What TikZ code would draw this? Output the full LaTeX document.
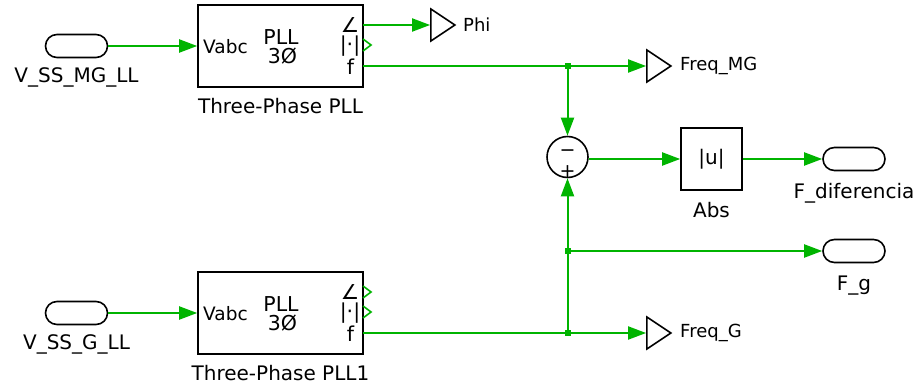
\documentclass[tikz,border=0pt]{standalone}
\usepackage{fontspec}
\setmainfont{DejaVu Sans}
\usepackage{xcolor}
\definecolor{sigreen}{HTML}{00B400}
\usetikzlibrary{positioning,arrows.meta,shapes.geometric}
\tikzset{
  blk/.style    ={rectangle, draw=black, line width=1.6pt, fill=white, inner sep=0pt},
  pllbox/.style ={blk, minimum width=165pt, minimum height=82pt},
  absbox/.style ={blk, minimum width=61pt, minimum height=62pt, font=\fontsize{20}{20}\selectfont},
  fromtag/.style={rectangle, rounded corners=11.5pt, draw=black, line width=1.6pt,
                  minimum width=62pt, minimum height=23pt, inner sep=0pt},
  gototag/.style={isosceles triangle, isosceles triangle stretches, draw=black, line width=1.6pt,
                  minimum width=32pt, minimum height=24pt, inner sep=0pt, anchor=apex},
  sumblk/.style ={circle, draw=black, line width=1.6pt, minimum size=41pt, inner sep=0pt},
  jdot/.style   ={rectangle, fill=sigreen, minimum size=6pt, inner sep=0pt},
  lbl/.style    ={font=\fontsize{20}{20}\selectfont, inner sep=0pt},
  glbl/.style   ={font=\fontsize{18}{18}\selectfont, inner sep=0pt, anchor=west},
  intxt/.style  ={font=\fontsize{20.5}{21}\selectfont, inner sep=0pt},
  intxts/.style ={font=\fontsize{18.5}{19}\selectfont, inner sep=0pt},
  sgn/.style    ={font=\fontsize{19}{19}\selectfont, inner sep=0pt},
  arr/.style    ={-{Triangle[length=18pt,width=13pt]}, draw=sigreen, line width=2pt},
  wire/.style   ={draw=sigreen, line width=2pt},
  openport/.style={draw=sigreen, line width=1.6pt},
}

\begin{document}
\begin{tikzpicture}[x=1pt,y=1pt]
  \useasboundingbox (0,0) rectangle (916,-385);
  % upper PLL
  \node[pllbox] (pllMG) at (280.5,-46) {};
  \node[intxts, anchor=west] at (203,-47) {Vabc};
  \node[intxt] at (281,-37) {PLL};
  \node[intxt] at (282.5,-56.5) {3Ø};
  \node[intxt] at (350,-25) {∠};
  \node[intxt] at (350,-46.5) {|·|};
  \node[intxt] at (350.5,-67) {f};
  \node[lbl, below=10pt of pllMG] {Three-Phase PLL};
  \coordinate (mgang) at (363,-25);
  \coordinate (mgabs) at (363,-45);
  \coordinate (mgf)   at (363,-66);
  % lower PLL
  \node[pllbox] (pllG) at (280.5,-313) {};
  \node[intxts, anchor=west] at (203,-314) {Vabc};
  \node[intxt] at (281,-304) {PLL};
  \node[intxt] at (282.5,-323.5) {3Ø};
  \node[intxt] at (350,-292) {∠};
  \node[intxt] at (350,-313.5) {|·|};
  \node[intxt] at (350.5,-334) {f};
  \node[lbl, below=10pt of pllG] {Three-Phase PLL1};
  \coordinate (gang) at (363,-292);
  \coordinate (gabs) at (363,-312);
  \coordinate (gf)   at (363,-333);
  % from tags
  \node[fromtag] (vmg) at (76.5,-46) {};
  \node[lbl, below=9pt of vmg] {V\_SS\_MG\_LL};
  \node[fromtag] (vg) at (76.5,-313) {};
  \node[lbl, below=9pt of vg] {V\_SS\_G\_LL};
  \node[fromtag] (fdif) at (854,-159) {};
  \node[lbl, below=12pt of fdif] {F\_diferencia};
  \node[fromtag] (ftag) at (854,-251) {};
  \node[lbl, below=12pt of ftag] {F\_g};
  % goto tags
  \node[gototag] (phi) at (457,-25) {};
  \node[glbl] at (463,-25) {Phi};
  \node[gototag] (fmg) at (673,-66) {};
  \node[glbl] at (680,-66) {Freq\_MG};
  \node[gototag] (fg) at (673,-333) {};
  \node[glbl] at (680,-333) {Freq\_G};
  % sum and abs
  \node[sumblk] (sum) at (567.5,-157) {};
  \node[sgn] at (567.5,-153) {−};
  \node[sgn] at (567.5,-172) {+};
  \node[absbox] (abs) at (711.5,-159) {|u|};
  \node[lbl, below=11pt of abs] {Abs};
  % junctions
  \node[jdot] (jmg) at (567.5,-66) {};
  \node[jdot] (jf) at (567.5,-251) {};
  \node[jdot] (jg) at (567.5,-333) {};
  % wiring
  \draw[arr] (vmg) -- (pllMG.west |- vmg);
  \draw[arr] (vg) -- (pllG.west |- vg);
  \draw[arr] (mgang) -- (phi.west |- mgang);
  \draw[wire] (mgf) -- (jmg.center);
  \draw[arr] (jmg.center) -- (fmg.west |- jmg);
  \draw[arr] (jmg.center) -- (sum);
  \draw[arr] (sum.east |- abs) -- (abs);
  \draw[arr] (abs) -- (fdif);
  \draw[wire] (gf) -- (jg.center);
  \draw[arr] (jg.center) -- (fg.west |- jg);
  \draw[wire] (jg.center) -- (jf.center);
  \draw[arr] (jf.center) -- (sum);
  \draw[arr] (jf.center) -- (ftag);
  % open ports
  \draw[openport] (mgabs) ++(0,6) -- ++(8,-6) -- ++(-8,-6);
  \draw[openport] (gang) ++(0,6) -- ++(8,-6) -- ++(-8,-6);
  \draw[openport] (gabs) ++(0,6) -- ++(8,-6) -- ++(-8,-6);
\end{tikzpicture}
\end{document}
